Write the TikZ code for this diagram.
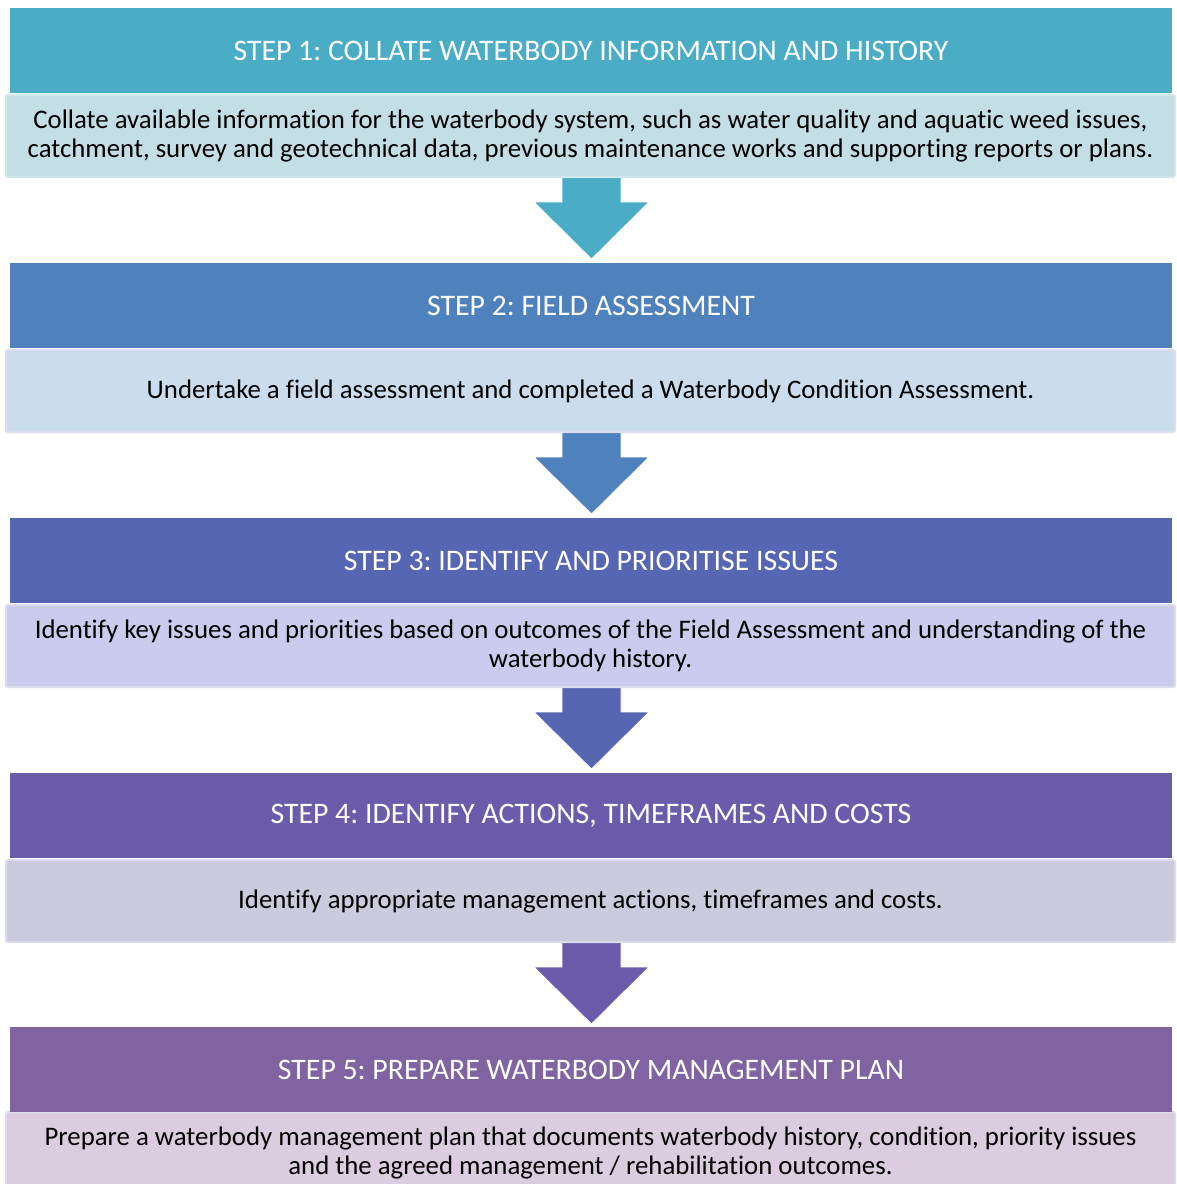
\documentclass[tikz,border=0pt]{standalone}
\usepackage{fontspec}
\setmainfont[Ligatures={NoCommon}]{Carlito}
\begin{document}
\frenchspacing
\begin{tikzpicture}[x=1pt,y=-1pt,
  hdr/.style={draw=none,fill=#1,text=white,minimum width=1162pt,minimum height=85pt,anchor=north,inner sep=0pt,font=\fontsize{29.8}{33}\selectfont},
  bodybox/.style={draw=#1,line width=2pt,rounded corners=2pt,minimum width=1169pt,minimum height=82pt,anchor=north,inner sep=0pt,align=center,text=black,font=\fontsize{26.8}{29}\selectfont},
  downarrow/.style={fill=#1,draw=white,line width=0.8pt}]
\useasboundingbox (0,0) rectangle (1176,1184);
\fill[white] (0,0) rectangle (1176,1184);
\definecolor{h1}{HTML}{4BACC6}
\definecolor{h2}{HTML}{4F81BD}
\definecolor{h3}{HTML}{5766B3}
\definecolor{h4}{HTML}{6A5CAA}
\definecolor{h5}{HTML}{8064A2}
\definecolor{b1}{HTML}{C4DEE6}
\definecolor{b2}{HTML}{CBDDED}
\definecolor{b3}{HTML}{CBCBEE}
\definecolor{b4}{HTML}{CCCBDD}
\definecolor{b5}{HTML}{DCCCE0}
\definecolor{e1}{HTML}{D2E6EC}
\definecolor{e2}{HTML}{DCDCF0}
% arrows (drawn first, under boxes edges)
\foreach \i/\c in {0/h1,1/h2,2/h3,3/h4}{
  \pgfmathsetmacro{\yo}{255*\i}
  \path[downarrow=\c] (562,170+\yo) -- (621,170+\yo) -- (621,202+\yo) -- (649,202+\yo) -- (591.5,259+\yo) -- (534,202+\yo) -- (562,202+\yo) -- cycle;
}
% step 1
\node[bodybox=e1,fill=b1] (b1) at (590.5,94) {Collate available information for the waterbody system, such as water quality and aquatic weed issues,\\catchment, survey and geotechnical data, previous maintenance works and supporting reports or plans.};
\node[hdr=h1] (s1) at (591,8) {STEP 1: COLLATE WATERBODY INFORMATION AND HISTORY};
% step 2
\node[bodybox=e2,fill=b2] (b2) at (590.5,349) {Undertake a field assessment and completed a Waterbody Condition Assessment.};
\node[hdr=h2] (s2) at (591,263) {STEP 2: FIELD ASSESSMENT};
% step 3
\node[bodybox=e2,fill=b3] (b3) at (590.5,604) {Identify key issues and priorities based on outcomes of the Field Assessment and understanding of the\\waterbody history.};
\node[hdr=h3] (s3) at (591,518) {STEP 3: IDENTIFY AND PRIORITISE ISSUES};
% step 4
\node[bodybox=e2,fill=b4] (b4) at (590.5,859) {Identify appropriate management actions, timeframes and costs.};
\node[hdr=h4] (s4) at (591,773) {STEP 4: IDENTIFY ACTIONS, TIMEFRAMES AND COSTS};
% step 5
\node[bodybox=e2,fill=b5] (b5) at (590.5,1111) {Prepare a waterbody management plan that documents waterbody history, condition, priority issues\\and the agreed management / rehabilitation outcomes.};
\node[hdr=h5] (s5) at (591,1027) {STEP 5: PREPARE WATERBODY MANAGEMENT PLAN};
\end{tikzpicture}
\end{document}
